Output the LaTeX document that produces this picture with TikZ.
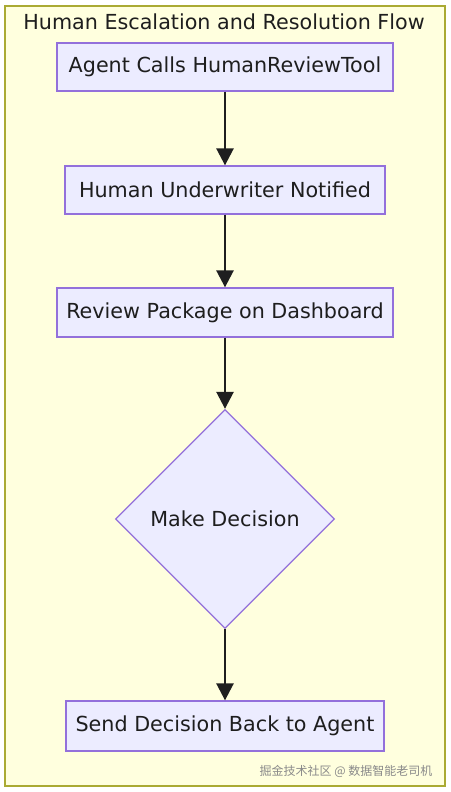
\documentclass[tikz,border=0pt]{standalone}
\usepackage{fontspec}
\setmainfont{DejaVu Sans}
\newfontfamily\cjk{Noto Sans CJK SC}
\usetikzlibrary{shapes.geometric,arrows.meta}
\definecolor{clusterfill}{HTML}{FFFFDE}
\definecolor{clusterline}{HTML}{AAAA33}
\definecolor{nodefill}{HTML}{ECECFF}
\definecolor{nodeline}{HTML}{9370DB}
\definecolor{txt}{HTML}{1E1E1E}
\definecolor{wm}{HTML}{8A8A8A}
\tikzset{
  box/.style={draw=nodeline, fill=nodefill, line width=1.3pt, inner sep=0pt, text=txt, font=\fontsize{20.7}{24}\selectfont},
  dec/.style={draw=nodeline, fill=nodefill, line width=1.3pt, diamond, aspect=1, inner sep=0pt, minimum width=219pt, minimum height=219pt, text=txt, font=\fontsize{20.7}{24}\selectfont},
  flow/.style={draw=black!88, line width=2.6pt, -{Triangle[length=17pt,width=17pt]}},
}
\begin{document}
\begin{tikzpicture}[x=1pt,y=-1pt]
\useasboundingbox (0,0) rectangle (450,792);
\fill[white] (0,0) rectangle (450,792);
\draw[clusterline, fill=clusterfill, line width=1.3pt] (5,6) rectangle (445,786);
\node[text=txt, font=\fontsize{20.7}{24}\selectfont] (title) at (224,22) {Human Escalation and Resolution Flow};
\node[box, minimum width=336pt, minimum height=48pt] (a) at (225,67) {Agent Calls HumanReviewTool};
\node[box, minimum width=320pt, minimum height=48pt] (b) at (225,190) {Human Underwriter Notified};
\node[box, minimum width=336pt, minimum height=49pt] (c) at (225,312.5) {Review Package on Dashboard};
\node[dec] (d) at (225,519) {Make Decision};
\node[box, minimum width=318pt, minimum height=50pt] (e) at (225,726) {Send Decision Back to Agent};
\node[text=wm, font=\cjk\fontsize{12}{14}\selectfont, anchor=east] (w) at (436,771) {掘金技术社区 @ 数据智能老司机};
\draw[flow] (a) -- (b);
\draw[flow] (b) -- (c);
\draw[flow] (c) -- (d);
\draw[flow] (d) -- (e);
\end{tikzpicture}
\end{document}
